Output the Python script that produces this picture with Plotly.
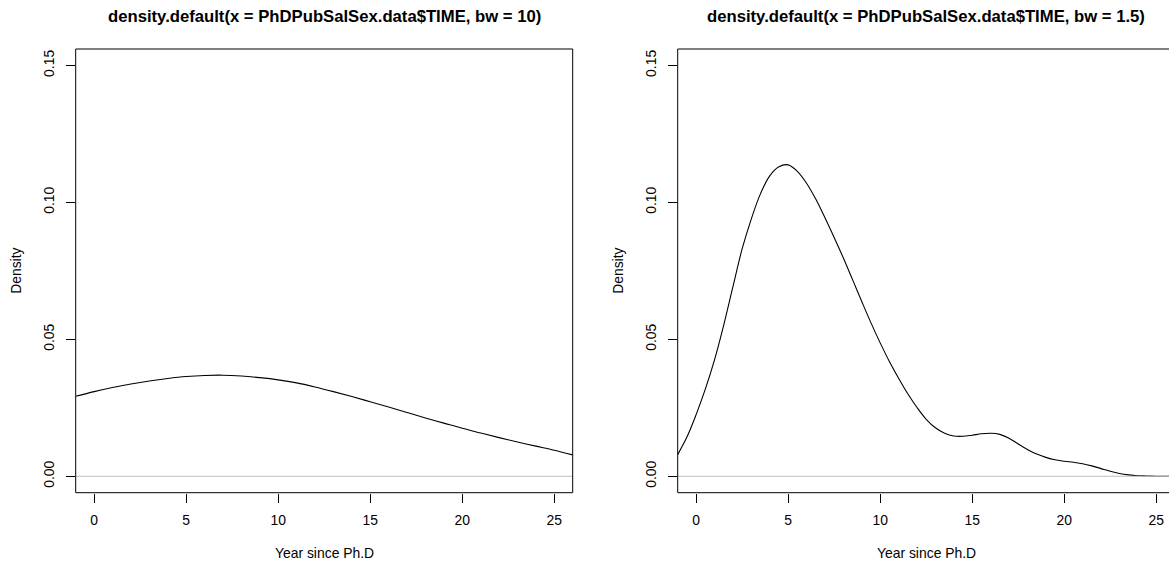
import plotly.graph_objects as go

# Kernel density estimates of years since Ph.D, two bandwidths
titles = [
    "density.default(x = PhDPubSalSex.data$TIME, bw = 10)",
    "density.default(x = PhDPubSalSex.data$TIME, bw = 1.5)",
]

# bw = 10
years_wide = [-1, 0, 1, 2, 3, 4, 5, 6, 7, 8, 9, 10, 11, 12, 13, 14, 15,
              16, 17, 18, 19, 20, 21, 22, 23, 24, 25, 26]
dens_wide = [0.0292, 0.0309, 0.0324, 0.0337, 0.0348, 0.0357, 0.0364, 0.0368,
             0.0369, 0.0366, 0.0360, 0.0352, 0.0341, 0.0326, 0.0309, 0.0291,
             0.0272, 0.0253, 0.0233, 0.0213, 0.0194, 0.0175, 0.0158, 0.0141,
             0.0125, 0.0110, 0.0095, 0.0078]

# bw = 1.5
years_narrow = [-1, -0.5, 0, 0.5, 1, 1.5, 2, 2.5, 3, 3.5, 4, 4.5, 5,
                5.5, 6, 6.5, 7, 7.5, 8, 8.5, 9, 9.5, 10, 10.5, 11, 11.5, 12,
                12.5, 13, 13.5, 14, 14.5, 15, 15.5, 16, 16.5, 17, 17.5, 18,
                18.5, 19, 19.5, 20, 20.5, 21, 21.5, 22, 22.5, 23, 23.5, 24,
                24.5, 25, 25.7]
dens_narrow = [0.0079, 0.0143, 0.0225, 0.0318, 0.0425, 0.0552, 0.0692,
               0.0830, 0.0940, 0.1032, 0.1097, 0.1130, 0.1137,
               0.1113, 0.1070, 0.1012, 0.0944, 0.0872, 0.0797, 0.0718,
               0.0638, 0.0560, 0.0487, 0.0419, 0.0358, 0.0301, 0.0251,
               0.0208, 0.0177, 0.0157, 0.0147, 0.0146, 0.0150, 0.0155,
               0.0157, 0.0153, 0.0139, 0.0118, 0.0098, 0.0081, 0.0069,
               0.0060, 0.0055, 0.0051, 0.0046, 0.0038, 0.0028, 0.0018,
               0.0010, 0.0005, 0.0002, 0.0001, 0.0000, 0.0000]

x_ticks = [0, 5, 10, 15, 20, 25]
y_ticks = [0.00, 0.05, 0.10, 0.15]
y_tick_text = ["0.00", "0.05", "0.10", "0.15"]
x_label = "Year since Ph.D"
y_label = "Density"

W, H = 1169, 566
FONT = "Liberation Sans, Arial, Helvetica, sans-serif"
BASE = 13.9

# plot-box geometry (pixels)
left_box = (75.7, 572.7)
right_box = (677.7, 1174.7)
top_px, bottom_px = 49.0, 492.7
px_per_year = (left_box[1] - left_box[0]) / 27.0

fig = go.Figure()
fig.add_trace(go.Scatter(x=years_wide, y=dens_wide, mode="lines",
                         line=dict(color="black", width=1.1, shape="spline"),
                         xaxis="x", yaxis="y", hoverinfo="skip"))
fig.add_trace(go.Scatter(x=years_narrow, y=dens_narrow, mode="lines",
                         line=dict(color="black", width=1.1, shape="spline",
                                   smoothing=1.0),
                         xaxis="x2", yaxis="y2", hoverinfo="skip"))

ydom = [1 - bottom_px / H, 1 - top_px / H]
axis_common = dict(showgrid=False, zeroline=False, showline=False,
                   ticks="outside", ticklen=9, tickwidth=1, tickcolor="black",
                   tickfont=dict(family=FONT, size=BASE, color="black"),
                   fixedrange=True)

right_max = -1 + (W - right_box[0]) / px_per_year

fig.update_layout(
    width=W, height=H, autosize=False,
    margin=dict(l=0, r=0, t=0, b=0),
    paper_bgcolor="white", plot_bgcolor="white",
    showlegend=False,
    xaxis=dict(domain=[left_box[0] / W, left_box[1] / W], range=[-1, 26],
               tickvals=x_ticks, anchor="y", ticklabelstandoff=6, **axis_common),
    yaxis=dict(domain=ydom, range=[-0.006, 0.156], tickvals=y_ticks,
               ticktext=y_tick_text, tickangle=-90, anchor="x",
               ticklabelstandoff=6, **axis_common),
    xaxis2=dict(domain=[right_box[0] / W, 1.0], range=[-1, right_max],
                tickvals=x_ticks, anchor="y2", ticklabelstandoff=6, **axis_common),
    yaxis2=dict(domain=ydom, range=[-0.006, 0.156], tickvals=y_ticks,
                ticktext=y_tick_text, tickangle=-90, anchor="x2",
                ticklabelstandoff=6, **axis_common),
)

# zero reference lines
for xa, ya in (("x", "y"), ("x2", "y2")):
    fig.add_shape(type="line", xref=f"{xa} domain", yref=ya, x0=0, x1=1,
                  y0=0, y1=0, line=dict(color="#BEBEBE", width=1))

# plot frames
for (x0, x1) in (left_box, right_box):
    fig.add_shape(type="rect", xref="paper", yref="paper",
                  x0=x0 / W, x1=x1 / W, y0=ydom[0], y1=ydom[1],
                  line=dict(color="black", width=1), fillcolor="rgba(0,0,0,0)")

# titles and axis labels
for (x0, x1), title in zip((left_box, right_box), titles):
    cx = (x0 + x1) / 2 / W
    fig.add_annotation(text=f"<b>{title}</b>", xref="paper", yref="paper",
                       x=cx, y=1 - 16.5 / H, showarrow=False,
                       font=dict(family=FONT, size=BASE * 1.2, color="black"),
                       xanchor="center", yanchor="middle")
    fig.add_annotation(text=x_label, xref="paper", yref="paper",
                       x=cx, y=1 - 553 / H, showarrow=False,
                       font=dict(family=FONT, size=BASE, color="black"),
                       xanchor="center", yanchor="middle")
    fig.add_annotation(text=y_label, xref="paper", yref="paper",
                       x=(x0 - 59.7) / W, y=1 - (top_px + bottom_px) / 2 / H,
                       showarrow=False, textangle=-90,
                       font=dict(family=FONT, size=BASE, color="black"),
                       xanchor="center", yanchor="middle")

fig.write_html("out.html")
